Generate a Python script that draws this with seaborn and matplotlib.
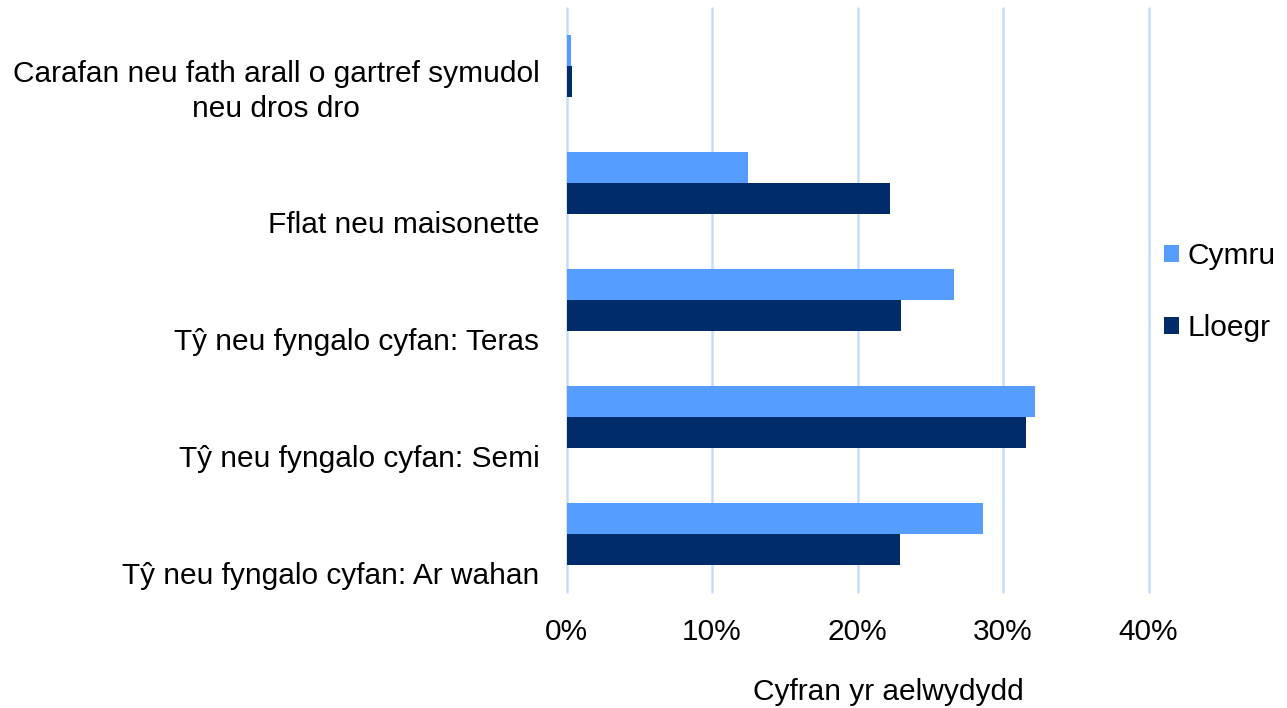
import matplotlib
matplotlib.use('Agg')
import matplotlib.pyplot as plt
from matplotlib.transforms import offset_copy
from matplotlib.ticker import FuncFormatter
import pandas as pd
import seaborn as sns

# Data (percent of households)
categories = ['Carafan neu fath arall o gartref symudol\nneu dros dro',
              'Fflat neu maisonette',
              'Tŷ neu fyngalo cyfan: Teras',
              'Tŷ neu fyngalo cyfan: Semi',
              'Tŷ neu fyngalo cyfan: Ar wahan']
series = ['Cymru', 'Lloegr']
cymru = [0.3, 12.5, 26.6, 32.2, 28.6]
lloegr = [0.35, 22.2, 23.0, 31.6, 22.9]
colors = ['#559DFF', '#002D6A']

df = pd.DataFrame({
    'category': categories * 2,
    'series': [series[0]] * len(categories) + [series[1]] * len(categories),
    'value': cymru + lloegr,
})

sns.set_theme(style='white')
plt.rcParams['font.family'] = ['Liberation Sans', 'DejaVu Sans']
fs = 21.5

fig = plt.figure(figsize=(12.87, 7.08), dpi=100)
ax = fig.add_axes([566.5 / 1287, 1 - 592 / 708, 582 / 1287, 584 / 708])

sns.barplot(data=df, y='category', x='value', hue='series', orient='h',
            palette=colors, width=0.53, saturation=1, ax=ax, legend=True,
            linewidth=0)

ax.set_xlim(0, 40)
ax.set_xticks([0, 10, 20, 30, 40])
ax.xaxis.set_major_formatter(FuncFormatter(lambda v, p: f'{v:.0f}%'))
ax.grid(axis='x', color='#C6DCFF', linewidth=1.8)
ax.grid(axis='y', visible=False)
for gl in ax.get_xgridlines():
    gl.set_clip_on(False)
ax.set_axisbelow(True)
for s in ax.spines.values():
    s.set_visible(False)
ax.tick_params(axis='x', length=0, pad=19, labelsize=fs, labelcolor='black')
ax.tick_params(axis='y', length=0)
ax.set_yticklabels([])
ax.set_ylabel('')

# category labels sit below the band centres, right aligned
for i, lab in enumerate(categories):
    nlines = lab.count('\n') + 1
    dy = 42 - (nlines - 1) * 17
    tr = offset_copy(ax.get_yaxis_transform(), fig=fig, x=-27, y=-dy, units='dots')
    ax.text(0, i, lab, transform=tr, ha='right', va='center', fontsize=fs,
            multialignment='center', linespacing=1.3, color='black')

ax.set_xlabel('Cyfran yr aelwydydd', fontsize=fs, color='black')
ax.xaxis.set_label_coords((888 - 566.5) / 582, (592 - 678) / 584)

handles, labels = ax.get_legend_handles_labels()
ax.legend(handles, labels, loc='center left', bbox_to_anchor=(1164 / 1287, 1 - 292 / 708),
          bbox_transform=fig.transFigure, frameon=False, fontsize=fs,
          handlelength=0.5, handleheight=0.5, handletextpad=0.3,
          labelspacing=1.45, borderpad=0, borderaxespad=0, labelcolor='black')

fig.savefig('out.png', dpi=100)
